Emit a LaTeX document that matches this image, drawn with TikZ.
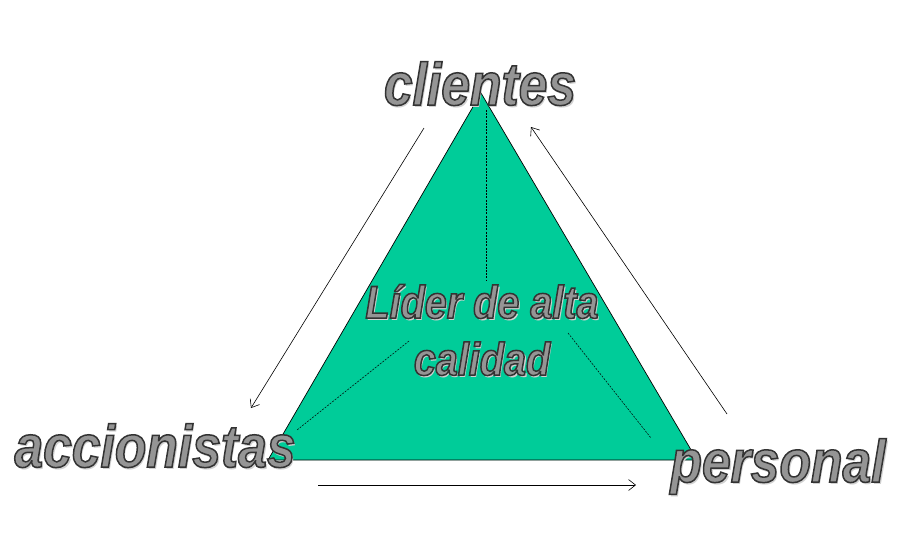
\documentclass[tikz,border=0pt]{standalone}
\usepackage{fontspec}
\setmainfont{Liberation Sans}[FakeStretch=0.86]
\usetikzlibrary{arrows.meta}
\definecolor{leafgreen}{HTML}{00CC99}
\definecolor{lettergray}{HTML}{959595}
% outlined letters: fill and stroke (text render mode 2)
\newcommand{\bigword}[1]{\rlap{\hspace{2pt}\raisebox{-2pt}{\textcolor{black!18}{#1}}}\special{pdf:code q 2 Tr 1.5 w 0.2 G}#1\special{pdf:code Q}}
\begin{document}
\begin{tikzpicture}[x=1pt,y=-1pt]
	\tikzstyle{Word} = [inner sep=0pt, anchor=base, text=lettergray, font=\fontsize{60}{66}\selectfont\bfseries\itshape]
	\tikzstyle{Inner} = [inner sep=0pt, text=lettergray, align=center, font=\fontsize{46}{57}\selectfont\bfseries\itshape]
	\tikzstyle{Guide} = [line width=0.5pt, dash pattern=on 2pt off 1.2pt]
	\tikzstyle{Turn} = [-{Straight Barb[length=7pt,width=11pt]}, line width=0.6pt]
	\useasboundingbox (0,0) rectangle (918,550);
	% triangle
	\coordinate (top) at (481,93);
	\coordinate (left) at (268,460);
	\coordinate (right) at (697,460);
	\draw[fill=leafgreen, line width=0.7pt] (top) -- (left) -- (right) -- cycle;
	% dashed guides
	\coordinate (g1) at (486,110);
	\coordinate (g2) at (486,280);
	\coordinate (g3) at (409,341);
	\coordinate (g4) at (297,430);
	\coordinate (g5) at (568,333);
	\coordinate (g6) at (651,438);
	\draw[Guide] (g1) -- (g2);
	\draw[Guide] (g3) -- (g4);
	\draw[Guide] (g5) -- (g6);
	% arrows round the triangle
	\coordinate (a1) at (424,128);
	\coordinate (a2) at (251,408);
	\coordinate (a3) at (318,485);
	\coordinate (a4) at (636,485);
	\coordinate (a5) at (727,414);
	\coordinate (a6) at (531,127);
	\draw[Turn] (a1) to (a2);
	\draw[Turn] (a3) to (a4);
	\draw[Turn] (a5) to (a6);
	% labels
	\node (clientes) at (480,105) [Word] {\bigword{clientes}};
	\node (accionistas) at (155,467) [Word] {\bigword{accionistas}};
	\node (personal) at (778,482) [Word] {\bigword{personal}};
	\node (lider) at (482,331) [Inner] {\bigword{Líder de alta}\\\bigword{calidad}};
\end{tikzpicture}
\end{document}
